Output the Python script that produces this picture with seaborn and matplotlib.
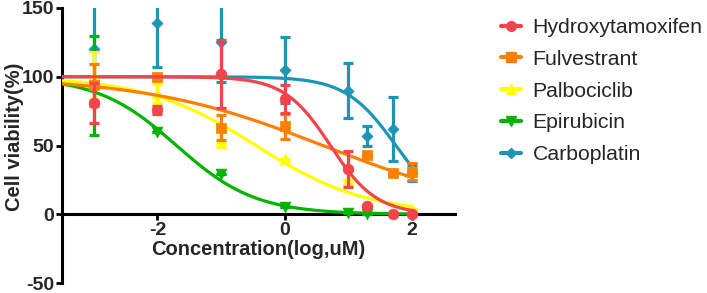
import numpy as np
import pandas as pd
import matplotlib
matplotlib.use("Agg")
import matplotlib.pyplot as plt
import seaborn as sns
from matplotlib.lines import Line2D

# ---- data ----
drugs = ["Hydroxytamoxifen", "Fulvestrant", "Palbociclib", "Epirubicin", "Carboplatin"]
colors = ["#F2444C", "#FF7F00", "#FFFF00", "#00B400", "#1E95B4"]
markers = ["o", "s", "^", "v", "D"]

hx_x = [-3, -2, -1, 0, 1, 1.3, 1.7, 2]
hx_y = [81, 76, 102, 84, 33, 6, 0, 0]
hx_sd = [14.5, 3, 25, 10, 13, 0, 0, 0]

fu_x = [-3, -2, -1, 0, 1.3, 1.7, 2]
fu_y = [94, 100, 63, 64, 43, 30, 31]
fu_sd = [15, 2, 9, 9, 0, 0, 6]

pa_x = [-3, -2, -1, 0, 1, 2]
pa_y = [101, 88, 55, 40, 25, 4]
pa_sd = [17, 7, 6, 0, 0, 0]

ep_x = [-3, -2, -1, 0, 1, 1.3]
ep_y = [94, 60, 29, 5, 1, 0]
ep_sd = [36, 0, 0, 0, 0, 0]

ca_x = [-3, -2, -1, 0, 1, 1.3, 1.7, 2]
ca_y = [120, 139, 125, 105, 90, 57, 62, 30]
ca_sd = [37, 32, 29, 24, 20, 7, 23, 6]

# fitted 4PL parameters (top, bottom, logIC50, hill)
fit_top = [100, 100, 100, 100, 100]
fit_bottom = [0, 0, 0, 0, 0]
fit_logic50 = [0.72, 0.6, -0.45, -1.7, 1.75]
fit_hill = [1.2, 0.31, 0.5, 0.7, 1.1]

xs_all = [hx_x, fu_x, pa_x, ep_x, ca_x]
ys_all = [hx_y, fu_y, pa_y, ep_y, ca_y]
sds_all = [hx_sd, fu_sd, pa_sd, ep_sd, ca_sd]

# ---- style ----
sns.set_style("ticks")
plt.rcParams["font.family"] = ["Liberation Sans", "DejaVu Sans"]
plt.rcParams["axes.unicode_minus"] = False

fig = plt.figure(figsize=(7.07, 2.93), dpi=100)
ax = fig.add_axes([0.0877, 0.034, 0.5559, 0.9387])

xmin, xmax = -3.5, 2.68
pts_rows = []
curve_rows = []
for i, d in enumerate(drugs):
    for xv, yv in zip(xs_all[i], ys_all[i]):
        pts_rows.append({"drug": d, "x": xv, "y": yv})
    xc = np.linspace(xmin, 2.0, 300)
    yc = fit_bottom[i] + (fit_top[i] - fit_bottom[i]) / (1 + 10 ** (fit_hill[i] * (xc - fit_logic50[i])))
    for a, b in zip(xc, yc):
        curve_rows.append({"drug": d, "x": a, "y": b})
pts = pd.DataFrame(pts_rows)
curves = pd.DataFrame(curve_rows)

# draw in reverse order so the first series is on top
for k, i in enumerate(reversed(range(len(drugs)))):
    d = drugs[i]
    z = 2 + k
    cd = curves[curves.drug == d]
    sns.lineplot(data=cd, x="x", y="y", color=colors[i], lw=2.3, ax=ax, zorder=z, legend=False)
    ax.errorbar(xs_all[i], ys_all[i], yerr=sds_all[i], fmt="none", ecolor=colors[i],
                elinewidth=2.3, capsize=3.5, capthick=2.3, zorder=z)
    pd_ = pts[pts.drug == d]
    ms = 60 if markers[i] != "D" else 32
    sns.scatterplot(data=pd_, x="x", y="y", color=colors[i], marker=markers[i], s=ms,
                    edgecolor=colors[i], linewidth=0.5, ax=ax, zorder=z + 0.5, legend=False)

ax.set_xlim(xmin, xmax)
ax.set_ylim(-50, 150)
ax.set_xticks([-2, 0, 2])
ax.set_yticks([-50, 0, 50, 100, 150])
ax.set_xticklabels(["-2", "0", "2"])
ax.set_yticklabels(["-50", "0", "50", "100", "150"])
ax.spines["bottom"].set_position(("data", 0))
ax.spines["right"].set_visible(False)
ax.spines["top"].set_visible(False)
for s in ["left", "bottom"]:
    ax.spines[s].set_linewidth(2.2)
    ax.spines[s].set_color("black")
    ax.spines[s].set_zorder(1)
ax.tick_params(axis="both", direction="out", length=4, width=2, color="black",
               labelsize=14, pad=1.5)
for lab in ax.get_xticklabels() + ax.get_yticklabels():
    lab.set_fontweight("bold")

ax.set_xlabel("Concentration(log,uM)", fontsize=14.5, fontweight="bold", labelpad=1)
ax.set_ylabel("Cell viability(%)", fontsize=14.5, fontweight="bold")
ax.yaxis.set_label_coords(-0.097, 0.53)

handles = [Line2D([0], [0], color=colors[i], marker=markers[i], lw=3,
                  markersize=7 if markers[i] != "D" else 5.5)
           for i in range(len(drugs))]
fig.legend(handles, drugs, loc="upper left", bbox_to_anchor=(0.708, 0.938),
           frameon=False, fontsize=15.3, handlelength=0.95, handletextpad=0.55,
           labelspacing=0.6, borderaxespad=0.0, borderpad=0.0)

fig.savefig("out.png", dpi=100)
